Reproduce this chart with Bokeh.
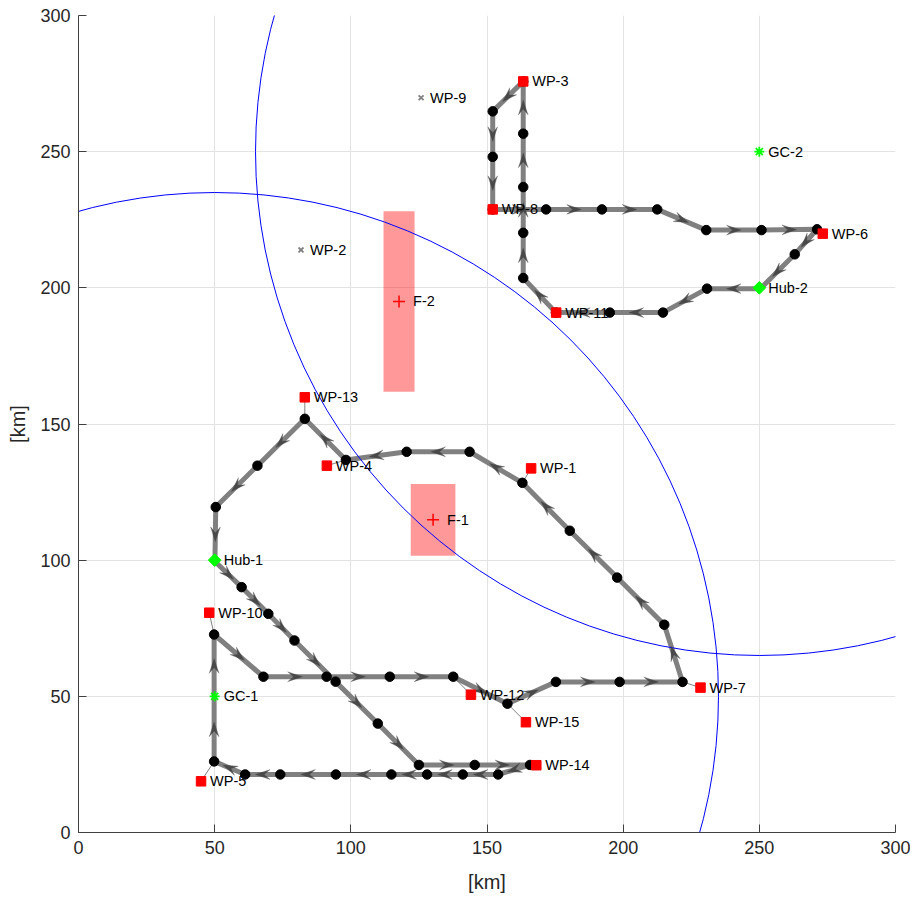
import numpy as np
from bokeh.plotting import figure
from bokeh.models import Range1d, FixedTicker
from bokeh.embed import file_html
from bokeh.resources import INLINE
from bokeh.core.properties import value

FONT = "Liberation Sans"

# ---------------- data ----------------
# restricted zones (centre, width, height in km)
zone_names = ["F-1", "F-2"]
zone_x = [130.2, 117.7]
zone_y = [114.8, 195.0]
zone_w = [16.4, 11.4]
zone_h = [26.4, 66.3]

# communication ranges around ground control stations
range_x = [50, 250]
range_y = [50, 250]
range_r = [185, 185]

gc_names = ["GC-1", "GC-2"]
gc_x = [50, 250]
gc_y = [50, 250]

hub_names = ["Hub-1", "Hub-2"]
hub_x = [50, 250]
hub_y = [100, 200]

wp_names = ["WP-1", "WP-3", "WP-4", "WP-5", "WP-6", "WP-7", "WP-8",
            "WP-10", "WP-11", "WP-12", "WP-13", "WP-14", "WP-15"]
wp_x = [166.2, 163.3, 91.2, 45.0, 273.3, 228.4, 152.1, 48.0, 175.4, 144.1, 83.1, 168.1, 164.3]
wp_y = [133.7, 275.8, 134.7, 18.8, 219.9, 53.2, 228.8, 80.7, 190.9, 50.6, 159.8, 24.7, 40.5]
# nearest route node each waypoint is attached to
wp_anchor_x = [163.0, 163.3, 98.2, 49.8, 271.2, 221.8, 152.1, 49.8, 175.3, 137.6, 83.1, 165.8, 157.5]
wp_anchor_y = [128.4, 275.8, 136.8, 26.1, 221.5, 55.3, 228.8, 72.7, 190.9, 57.2, 151.9, 24.8, 47.3]

skip_names = ["WP-2", "WP-9"]
skip_x = [81.7, 125.8]
skip_y = [213.9, 269.8]

# route from Hub-1
route1_x = [50.1, 59.9, 69.7, 79.3, 94.4, 109.9, 125.0, 145.5, 165.8, 154.1, 141.1, 128.0,
            114.9, 94.5, 74.1, 61.2, 49.8, 49.8, 49.8, 67.9, 91.1, 114.3, 137.6, 157.5,
            175.3, 198.7, 221.8, 215.1, 197.8, 180.4, 163.0, 143.6, 120.5, 98.2, 83.1,
            65.7, 50.4, 50.1]
route1_y = [99.5, 90.1, 80.3, 70.5, 55.4, 40.0, 24.8, 24.8, 24.8, 21.3, 21.3, 21.3,
            21.3, 21.3, 21.3, 21.3, 26.1, 49.6, 72.7, 57.2, 57.2, 57.2, 57.2, 47.3,
            55.3, 55.3, 55.3, 76.3, 93.6, 110.8, 128.4, 139.8, 139.8, 136.8, 151.9,
            134.7, 119.5, 99.5]

# route from Hub-2
route2_x = [250.4, 230.8, 214.6, 195.1, 175.3, 163.3, 163.3, 163.3, 163.3, 163.3, 152.1,
            152.1, 152.1, 171.7, 192.2, 212.5, 230.5, 250.8, 271.2, 263.0, 250.4]
route2_y = [199.7, 199.7, 190.9, 190.9, 190.9, 203.6, 220.2, 237.0, 256.6, 275.8, 264.8,
            248.1, 228.8, 228.8, 228.8, 228.8, 221.2, 221.2, 221.5, 212.3, 199.7]

ticks = [0, 50, 100, 150, 200, 250, 300]

# ---------------- figure ----------------
p = figure(width=910, height=895, x_range=Range1d(0, 300), y_range=Range1d(0, 300),
           output_backend="svg", toolbar_location=None,
           min_border_left=78, min_border_right=15, min_border_top=15, min_border_bottom=62)
p.outline_line_color = None
p.background_fill_color = "white"

for ax in (p.xaxis[0], p.yaxis[0]):
    ax.ticker = FixedTicker(ticks=ticks)
    ax.axis_label = "[km]"
    ax.axis_label_text_font = FONT
    ax.axis_label_text_font_size = "20px"
    ax.axis_label_text_font_style = "normal"
    ax.axis_label_text_color = "#262626"
    ax.major_label_text_font = FONT
    ax.major_label_text_font_size = "18px"
    ax.major_label_text_color = "#262626"
    ax.major_tick_in = 8
    ax.major_tick_out = 0
    ax.minor_tick_line_color = None
    ax.axis_line_color = "#404040"
    ax.major_tick_line_color = "#404040"
p.xaxis.major_label_standoff = 8
p.xaxis.axis_label_standoff = 14
p.yaxis.major_label_standoff = 8
p.yaxis.axis_label_standoff = 8

p.xgrid.ticker = FixedTicker(ticks=ticks)
p.ygrid.ticker = FixedTicker(ticks=ticks)
p.grid.grid_line_color = "#e3e3e3"
p.grid.grid_line_width = 1

# zones
p.rect(x=zone_x, y=zone_y, width=zone_w, height=zone_h,
       fill_color="red", fill_alpha=0.4, line_color=None)

# routes
for rx, ry in ((route1_x, route1_y), (route2_x, route2_y)):
    p.line(rx, ry, line_color="#808080", line_width=5, line_join="round")

# range circles
p.ellipse(x=range_x, y=range_y, width=[2 * r for r in range_r],
          height=[2 * r for r in range_r], fill_color=None, line_color="blue", line_width=1)

# connectors from waypoints to route nodes
p.segment(x0=wp_x, y0=wp_y, x1=wp_anchor_x, y1=wp_anchor_y,
          line_color="#606060", line_width=0.8)

# direction arrowheads (stealth shape in data units, scales are ~isotropic)
def heads(rx, ry, frac=0.5, L=5.4, W=3.6, notch=0.6):
    xs, ys = [], []
    rx = np.asarray(rx, float)
    ry = np.asarray(ry, float)
    for i in range(len(rx) - 1):
        dx, dy = rx[i + 1] - rx[i], ry[i + 1] - ry[i]
        n = np.hypot(dx, dy)
        if n < 1e-9:
            continue
        ux, uy = dx / n, dy / n
        px, py = -uy, ux
        tx, ty = rx[i] + frac * dx + 0.5 * L * ux, ry[i] + frac * dy + 0.5 * L * uy
        bx, by = tx - L * ux, ty - L * uy
        nx, ny = tx - notch * L * ux, ty - notch * L * uy
        xs.append([tx, bx + W / 2 * px, nx, bx - W / 2 * px])
        ys.append([ty, by + W / 2 * py, ny, by - W / 2 * py])
    return xs, ys

for rx, ry in ((route1_x, route1_y), (route2_x, route2_y)):
    hx, hy = heads(rx, ry)
    p.patches(hx, hy, fill_color="#404040", fill_alpha=0.85,
              line_color="#404040", line_alpha=0.5, line_width=0.5)

# route nodes (excluding those at hubs / ground control)
special = set(zip(hub_x, hub_y)) | set(zip(gc_x, gc_y))
def is_special(x, y):
    return any(abs(x - sx) < 1.0 and abs(y - sy) < 1.0 for sx, sy in special)
nx_, ny_ = [], []
for rx, ry in ((route1_x, route1_y), (route2_x, route2_y)):
    for x, y in zip(rx, ry):
        if not is_special(x, y):
            nx_.append(x)
            ny_.append(y)
p.scatter(nx_, ny_, marker="circle", size=9.5, fill_color="black", line_color="black")

# waypoints
p.scatter(wp_x, wp_y, marker="square", size=9.5, fill_color="red", line_color="red")
p.scatter(skip_x, skip_y, marker="x", size=7, line_color="#808080", line_width=1.8)

# zone centres
zone_cx = zone_x
zone_cy = zone_y
p.scatter(zone_cx, zone_cy, marker="cross", size=12, line_color="red", line_width=1.5)

# ground control & hubs
p.scatter(gc_x, gc_y, marker="asterisk", size=10, line_color="#00ff00", line_width=1.8)
p.scatter(hub_x, hub_y, marker="square", angle=np.pi / 4, size=9,
          fill_color="#00ff00", line_color="#00ff00")

# labels
lab_kw = dict(text_font=value(FONT), text_font_size="14.5px", text_color="black",
              text_baseline="middle", text_align="left")
p.text(x=wp_x, y=wp_y, text=wp_names, x_offset=9, **lab_kw)
p.text(x=skip_x, y=skip_y, text=skip_names, x_offset=9, **lab_kw)
p.text(x=gc_x, y=gc_y, text=gc_names, x_offset=9, **lab_kw)
p.text(x=hub_x, y=hub_y, text=hub_names, x_offset=9, **lab_kw)
p.text(x=zone_cx, y=zone_cy, text=zone_names, x_offset=14, **lab_kw)

open("out.html", "w").write(file_html(p, INLINE))
